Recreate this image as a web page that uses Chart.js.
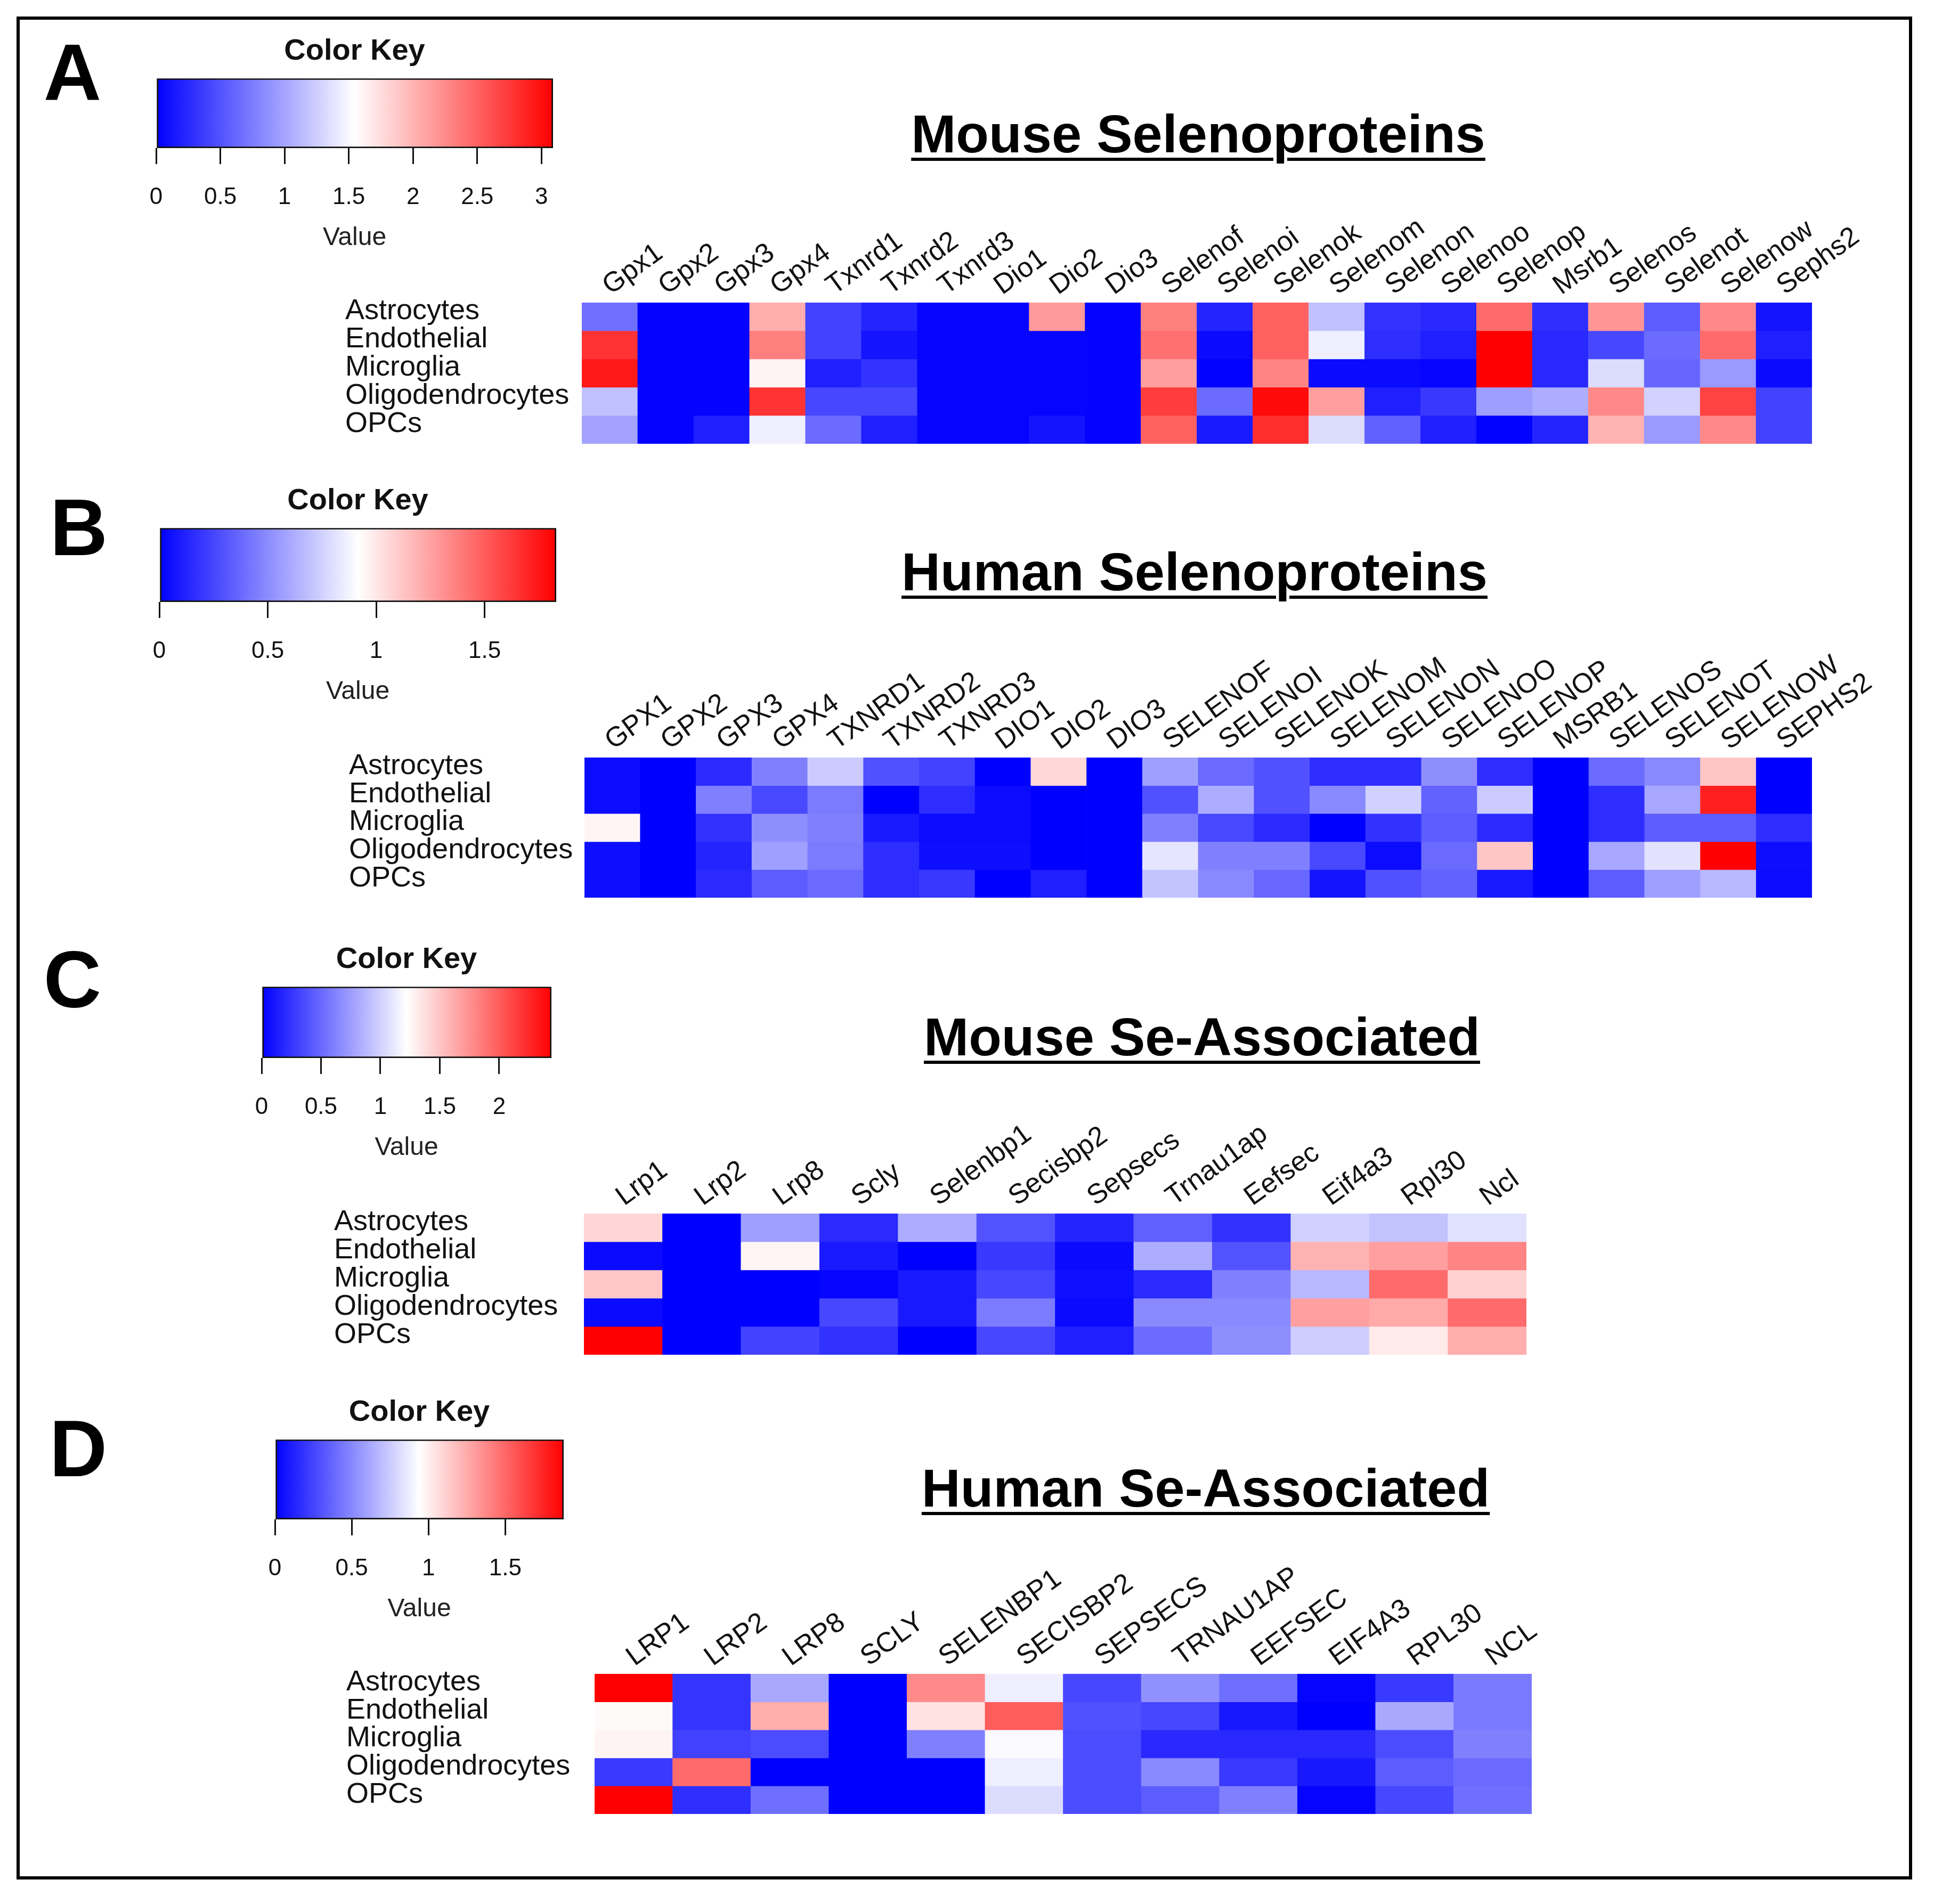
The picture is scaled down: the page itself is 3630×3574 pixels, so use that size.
<!DOCTYPE html>
<html>
<head>
<meta charset="utf-8">
<script src="https://cdn.jsdelivr.net/npm/chart.js@4.4.1/dist/chart.umd.min.js"></script>
<style>
  html, body { margin: 0; padding: 0; background: #fff; }
  #page { position: relative; width: 3630px; height: 3574px; background: #fff; font-family: 'Liberation Sans', Arial, sans-serif; overflow: hidden; }
  #frame { position: absolute; left: 31px; top: 31px; width: 3558px; height: 3497px; border: 6px solid #000; box-sizing: border-box; }
  .letter { position: absolute; width: 240px; margin-left: -120px; text-align: center; font-weight: bold; font-size: 150px; line-height: 150px; color: #000; }
  .title { position: absolute; width: 1800px; margin-left: -900px; text-align: center; font-weight: bold; font-size: 101px; line-height: 101px; color: #000; }
  .title span { text-decoration: underline; text-decoration-thickness: 6px; text-underline-offset: 10px; }
  canvas { position: absolute; }
</style>
</head>
<body>
<div id="page">
  <div id="frame"></div>
  <div class="letter" style="left:136px; top:60px;">A</div>
  <div class="letter" style="left:148px; top:915px;">B</div>
  <div class="letter" style="left:136px; top:1764px;">C</div>
  <div class="letter" style="left:147px; top:2644px;">D</div>
  <div class="title" style="left:2249px; top:201px;"><span>Mouse Selenoproteins</span></div>
  <div class="title" style="left:2242px; top:1023px;"><span>Human Selenoproteins</span></div>
  <div class="title" style="left:2256px; top:1896px;"><span>Mouse Se-Associated</span></div>
  <div class="title" style="left:2263px; top:2743px;"><span>Human Se-Associated</span></div>
</div>
<script>
const cellTypes = ['Astrocytes', 'Endothelial', 'Microglia', 'Oligodendrocytes', 'OPCs'];

// A - mouse selenoproteins (rows = cellTypes)
const mouseSelenoGenes = ['Gpx1', 'Gpx2', 'Gpx3', 'Gpx4', 'Txnrd1', 'Txnrd2', 'Txnrd3', 'Dio1', 'Dio2', 'Dio3',
  'Selenof', 'Selenoi', 'Selenok', 'Selenom', 'Selenon', 'Selenoo', 'Selenop', 'Msrb1', 'Selenos', 'Selenot', 'Selenow', 'Sephs2'];
const mouseSelenoValues = [
  [0.68, 0.02, 0.02, 2.04, 0.40, 0.22, 0.03, 0.03, 2.16, 0.02, 2.32, 0.22, 2.50, 1.17, 0.31, 0.25, 2.44, 0.28, 2.19, 0.56, 2.26, 0.12],
  [2.78, 0.02, 0.02, 2.32, 0.40, 0.12, 0.03, 0.03, 0.03, 0.02, 2.41, 0.06, 2.50, 1.45, 0.28, 0.19, 3.09, 0.25, 0.43, 0.65, 2.44, 0.19],
  [2.94, 0.02, 0.02, 1.61, 0.19, 0.31, 0.03, 0.03, 0.03, 0.02, 2.13, 0.01, 2.29, 0.06, 0.06, 0.03, 3.09, 0.25, 1.33, 0.62, 0.93, 0.06],
  [1.17, 0.02, 0.02, 2.78, 0.43, 0.43, 0.03, 0.03, 0.03, 0.02, 2.72, 0.65, 3.03, 2.13, 0.19, 0.34, 0.96, 1.05, 2.26, 1.27, 2.69, 0.40],
  [0.99, 0.02, 0.19, 1.45, 0.65, 0.19, 0.03, 0.03, 0.12, 0.02, 2.50, 0.15, 2.81, 1.33, 0.59, 0.19, 0.01, 0.22, 2.01, 0.93, 2.26, 0.40]
];
const mouseSelenoMax = 3.09;
const mouseSelenoTicks = [0, 0.5, 1, 1.5, 2, 2.5, 3];

// B - human selenoproteins
const humanSelenoGenes = ['GPX1', 'GPX2', 'GPX3', 'GPX4', 'TXNRD1', 'TXNRD2', 'TXNRD3', 'DIO1', 'DIO2', 'DIO3',
  'SELENOF', 'SELENOI', 'SELENOK', 'SELENOM', 'SELENON', 'SELENOO', 'SELENOP', 'MSRB1', 'SELENOS', 'SELENOT', 'SELENOW', 'SEPHS2'];
const humanSelenoValues = [
  [0.04, 0.00, 0.15, 0.46, 0.73, 0.29, 0.24, 0.00, 1.06, 0.00, 0.57, 0.38, 0.29, 0.16, 0.16, 0.51, 0.16, 0.00, 0.38, 0.49, 1.12, 0.00],
  [0.04, 0.00, 0.46, 0.26, 0.44, 0.00, 0.16, 0.04, 0.00, 0.00, 0.29, 0.62, 0.29, 0.49, 0.75, 0.35, 0.73, 0.00, 0.16, 0.60, 1.72, 0.00],
  [0.95, 0.00, 0.18, 0.51, 0.46, 0.09, 0.04, 0.04, 0.00, 0.00, 0.46, 0.26, 0.15, 0.00, 0.18, 0.33, 0.15, 0.00, 0.16, 0.33, 0.33, 0.16],
  [0.05, 0.00, 0.13, 0.57, 0.44, 0.16, 0.05, 0.05, 0.00, 0.00, 0.82, 0.46, 0.46, 0.26, 0.04, 0.38, 1.12, 0.00, 0.60, 0.81, 1.83, 0.05],
  [0.05, 0.00, 0.15, 0.33, 0.38, 0.16, 0.20, 0.00, 0.11, 0.00, 0.70, 0.49, 0.37, 0.07, 0.29, 0.35, 0.09, 0.00, 0.33, 0.57, 0.66, 0.04]
];
const humanSelenoMax = 1.83;
const humanSelenoTicks = [0, 0.5, 1, 1.5];

// C - mouse Se-associated
const mouseAssocGenes = ['Lrp1', 'Lrp2', 'Lrp8', 'Scly', 'Selenbp1', 'Secisbp2', 'Sepsecs', 'Trnau1ap', 'Eefsec', 'Eif4a3', 'Rpl30', 'Ncl'];
const mouseAssocValues = [
  [1.42, 0.00, 0.76, 0.20, 0.83, 0.39, 0.17, 0.46, 0.24, 1.00, 0.93, 1.07],
  [0.05, 0.00, 1.27, 0.12, 0.00, 0.27, 0.05, 0.83, 0.39, 1.59, 1.68, 1.81],
  [1.49, 0.00, 0.00, 0.02, 0.12, 0.34, 0.07, 0.20, 0.61, 0.88, 1.93, 1.44],
  [0.05, 0.00, 0.00, 0.34, 0.12, 0.59, 0.05, 0.66, 0.66, 1.68, 1.63, 1.93],
  [2.44, 0.00, 0.32, 0.24, 0.00, 0.34, 0.15, 0.51, 0.68, 0.98, 1.32, 1.61]
];
const mouseAssocMax = 2.44;
const mouseAssocTicks = [0, 0.5, 1, 1.5, 2];

// D - human Se-associated
const humanAssocGenes = ['LRP1', 'LRP2', 'LRP8', 'SCLY', 'SELENBP1', 'SECISBP2', 'SEPSECS', 'TRNAU1AP', 'EEFSEC', 'EIF4A3', 'RPL30', 'NCL'];
const humanAssocValues = [
  [1.88, 0.19, 0.62, 0.00, 1.37, 0.88, 0.26, 0.53, 0.41, 0.02, 0.21, 0.45],
  [0.96, 0.19, 1.24, 0.00, 1.05, 1.54, 0.30, 0.26, 0.09, 0.00, 0.62, 0.45],
  [0.98, 0.24, 0.28, 0.00, 0.47, 0.92, 0.28, 0.15, 0.15, 0.15, 0.28, 0.47],
  [0.21, 1.49, 0.00, 0.00, 0.00, 0.88, 0.28, 0.51, 0.21, 0.09, 0.34, 0.39],
  [1.88, 0.17, 0.41, 0.00, 0.00, 0.81, 0.28, 0.34, 0.47, 0.02, 0.26, 0.41]
];
const humanAssocMax = 1.88;
const humanAssocTicks = [0, 0.5, 1, 1.5];

Chart.defaults.font.family = "'Liberation Sans', Arial, sans-serif";
Chart.defaults.color = '#111';

// blue -> white -> red, white in the middle of the key
function colorFor(v, max) {
  let t = Math.max(0, Math.min(1, v / max));
  if (t < 0.5) {
    const s = Math.round(255 * t / 0.5);
    return 'rgb(' + s + ',' + s + ',255)';
  }
  const s = Math.round(255 * (1 - (t - 0.5) / 0.5));
  return 'rgb(255,' + s + ',' + s + ')';
}

function addCanvas(left, top, w, h) {
  const cv = document.createElement('canvas');
  cv.width = w;
  cv.height = h;
  cv.style.left = left + 'px';
  cv.style.top = top + 'px';
  cv.style.width = w + 'px';
  cv.style.height = h + 'px';
  document.getElementById('page').appendChild(cv);
  return cv;
}

function heatmap(genes, values, max, b) {
  const top = b.top - 240;
  const cv = addCanvas(b.labelLeft, top, b.right + 220 - b.labelLeft, b.bottom + 60 - top);
  new Chart(cv, {
    type: 'bar',
    data: {
      labels: genes,
      datasets: values.map((row, i) => ({
        label: cellTypes[i],
        data: row.map(() => [i, i + 1]),
        backgroundColor: row.map(v => colorFor(v, max)),
        borderWidth: 0,
        barPercentage: 1,
        categoryPercentage: 1,
        grouped: false
      }))
    },
    options: {
      responsive: false,
      animation: false,
      layout: { padding: { left: 0, right: 220, top: 0, bottom: 60 } },
      plugins: { legend: { display: false }, tooltip: { enabled: false } },
      scales: {
        x: {
          position: 'top',
          grid: { display: false, drawTicks: false },
          border: { display: false },
          ticks: { autoSkip: false, minRotation: 36, maxRotation: 36, padding: 0, labelOffset: 30, color: '#111', font: { size: 52 } },
          afterFit: s => { s.height = 240; }
        },
        y: {
          type: 'linear', min: 0, max: 5, reverse: true,
          grid: { display: false, drawTicks: false },
          border: { display: false },
          afterBuildTicks: s => { s.ticks = cellTypes.map((c, i) => ({ value: i + 0.5 })); },
          ticks: { autoSkip: false, crossAlign: 'far', labelOffset: -10, color: '#111', font: { size: 54 }, callback: (v, i) => cellTypes[i] },
          afterFit: s => { s.width = b.left - b.labelLeft; }
        }
      }
    }
  });
}

function keyGradient(ctx) {
  const chart = ctx.chart;
  const area = chart.chartArea;
  if (!area) return '#fff';
  const g = chart.ctx.createLinearGradient(area.left, 0, area.right, 0);
  g.addColorStop(0, colorFor(0, 1));
  g.addColorStop(0.5, colorFor(0.5, 1));
  g.addColorStop(1, colorFor(1, 1));
  return g;
}

function colorKey(ticks, max, b) {
  const top = b.barTop - 110;
  const bottom = b.barBottom + 200;
  const cv = addCanvas(b.barLeft - 70, top, b.barRight - b.barLeft + 140, bottom - top);
  new Chart(cv, {
    type: 'bar',
    data: {
      labels: ['Value'],
      datasets: [{
        data: [[0, max]],
        backgroundColor: keyGradient,
        borderColor: '#111',
        borderWidth: 3,
        borderSkipped: false,
        barPercentage: 1,
        categoryPercentage: 1
      }]
    },
    options: {
      indexAxis: 'y',
      responsive: false,
      animation: false,
      layout: { padding: { left: 70, right: 70, top: 0, bottom: 0 } },
      plugins: {
        legend: { display: false },
        tooltip: { enabled: false },
        title: { display: true, text: 'Color Key', color: '#111', font: { size: 56, weight: 'bold', lineHeight: 1.2 }, padding: { top: 26, bottom: 17 } }
      },
      scales: {
        x: {
          type: 'linear', min: 0, max: max, position: 'bottom',
          afterBuildTicks: s => { s.ticks = ticks.map(v => ({ value: v })); },
          grid: { display: true, drawOnChartArea: false, drawTicks: true, tickLength: 30, color: '#111', lineWidth: 3 },
          border: { display: false },
          ticks: { padding: 36, color: '#111', font: { size: 44 }, callback: v => String(v) },
          title: { display: true, text: 'Value', color: '#222', font: { size: 48 }, padding: { top: 0, bottom: 2 } },
          afterFit: s => { s.height = 200; }
        },
        y: { display: false }
      }
    }
  });
}

colorKey(mouseSelenoTicks, mouseSelenoMax, { barLeft: 293, barRight: 1038, barTop: 147, barBottom: 278 });
colorKey(humanSelenoTicks, humanSelenoMax, { barLeft: 299, barRight: 1044, barTop: 991, barBottom: 1130 });
colorKey(mouseAssocTicks, mouseAssocMax, { barLeft: 491, barRight: 1035, barTop: 1852, barBottom: 1986 });
colorKey(humanAssocTicks, humanAssocMax, { barLeft: 516, barRight: 1058, barTop: 2702, barBottom: 2852 });

heatmap(mouseSelenoGenes, mouseSelenoValues, mouseSelenoMax, { labelLeft: 648, left: 1092, right: 3401, top: 568, bottom: 833 });
heatmap(humanSelenoGenes, humanSelenoValues, humanSelenoMax, { labelLeft: 655, left: 1097, right: 3401, top: 1422, bottom: 1685 });
heatmap(mouseAssocGenes, mouseAssocValues, mouseAssocMax, { labelLeft: 627, left: 1096, right: 2865, top: 2278, bottom: 2543 });
heatmap(humanAssocGenes, humanAssocValues, humanAssocMax, { labelLeft: 650, left: 1116, right: 2875, top: 3142, bottom: 3405 });
</script>
</body>
</html>
